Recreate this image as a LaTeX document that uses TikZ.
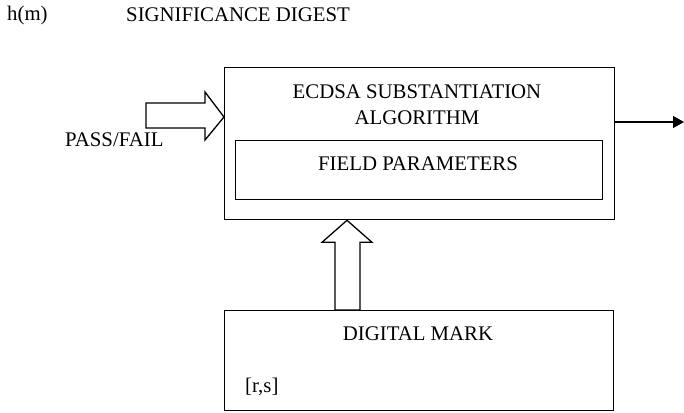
\documentclass[tikz,border=0pt]{standalone}
\usepackage{fontspec}
\setmainfont{Liberation Serif}
\usetikzlibrary{arrows.meta,calc}
\begin{document}
\begin{tikzpicture}[x=1pt,y=-1pt,
  every node/.style={font=\fontsize{20.8}{24}\selectfont, inner sep=0pt},
  box/.style={draw, line width=1.3pt, anchor=north west},
  blockarrow/.style={draw, line width=1.3pt, line join=miter, fill=white},
  lbl/.style={}]
\useasboundingbox (0,0) rectangle (684,412);

% header texts
\node[lbl, anchor=west] (hm) at (7,15) {h(m)};
\node[lbl, anchor=west] (dig) at (126,15) {SIGNIFICANCE DIGEST};

% verification block with inner parameter box
\node[box, minimum width=390pt, minimum height=152pt] (main) at (224,67) {};
\node[box, minimum width=367pt, minimum height=59pt] (field) at (235,140) {};
\node[lbl] (t1) at (417,92) {ECDSA SUBSTANTIATION};
\node[lbl] (t2) at (417,118) {ALGORITHM};
\node[lbl] (t3) at (418,164) {FIELD PARAMETERS};

% signature box
\node[box, minimum width=389pt, minimum height=100pt] (mark) at (224,310) {};
\node[lbl] (t4) at (418,334) {DIGITAL MARK};
\node[lbl, anchor=west] (rs) at (245,387) {[r,s]};

% input label
\node[lbl, anchor=west] (pf) at (65,140) {PASS/FAIL};

% block arrow into the algorithm box from the left
\coordinate (ltip) at (main.west |- 0,117);
\draw[blockarrow] (ltip) -- ($(ltip)+(-19,-25)$) -- ($(ltip)+(-19,-14)$)
  -- ($(ltip)+(-78,-14)$) -- ($(ltip)+(-78,11)$) -- ($(ltip)+(-19,11)$)
  -- ($(ltip)+(-19,23)$) -- cycle;

% block arrow from the signature box up into the algorithm box
\coordinate (utip) at (main.south -| 347,0);
\coordinate (ubase) at (mark.north -| 347,0);
\draw[blockarrow] (utip) -- ($(utip)+(25,22)$) -- ($(utip)+(13,22)$)
  -- ($(ubase)+(13,0)$) -- ($(ubase)+(-12,0)$) -- ($(utip)+(-12,22)$)
  -- ($(utip)+(-25,22)$) -- cycle;

% output arrow
\coordinate (out) at (684,122);
\draw[line width=1.3pt, -{Triangle[length=11pt,width=12pt]}] (main.east |- out) -- (out);
\end{tikzpicture}
\end{document}
